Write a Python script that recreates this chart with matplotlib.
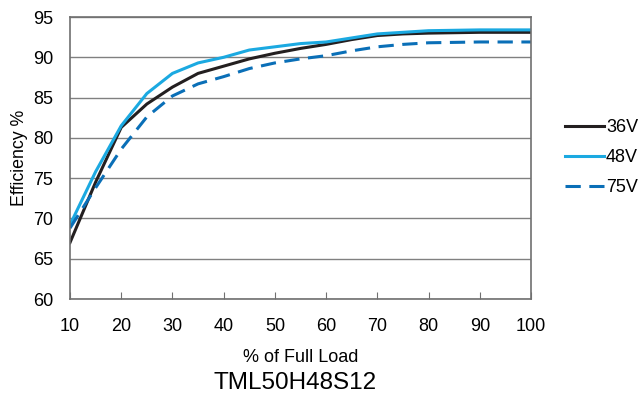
import matplotlib.pyplot as plt

plt.rcParams['font.family'] = ['Liberation Sans', 'DejaVu Sans']

# % of full load
load = [10, 15, 20, 25, 30, 35, 40, 45, 50, 55, 60, 65, 70, 75, 80, 90, 100]
eff_36v = [67.0, 74.5, 81.3, 84.2, 86.3, 88.0, 88.9, 89.8, 90.5, 91.1, 91.6, 92.2, 92.7, 92.9, 93.0, 93.1, 93.1]
eff_48v = [69.2, 75.8, 81.5, 85.5, 88.0, 89.3, 90.0, 90.9, 91.3, 91.7, 91.9, 92.4, 92.9, 93.1, 93.3, 93.4, 93.4]
eff_75v = [68.8, 73.8, 78.6, 82.6, 85.2, 86.7, 87.6, 88.6, 89.3, 89.8, 90.2, 90.8, 91.3, 91.6, 91.8, 91.9, 91.9]

fig = plt.figure(figsize=(6.41, 4.0), dpi=100)
ax = fig.add_axes([70 / 641, 1 - 299 / 400, 461 / 641, 282 / 400])

ax.plot(load, eff_36v, color='#231f20', lw=2.2, label='36V')
ax.plot(load, eff_48v, color='#1ba9e1', lw=2.2, label='48V')
ax.plot(load, eff_75v, color='#0a6fb7', lw=2.2, dashes=(5, 2.8), label='75V')

ax.set_xlim(10, 100)
ax.set_ylim(60, 95)
ax.set_xticks(range(10, 101, 10))
ax.set_yticks(range(60, 96, 5))
ax.yaxis.grid(True, color='#808080', lw=1)
ax.set_axisbelow(True)
for s in ax.spines.values():
    s.set_color('#707070')
    s.set_linewidth(1.2)
ax.tick_params(axis='x', direction='in', length=5, color='#707070', labelsize=13, pad=14)
ax.tick_params(axis='y', length=0, labelsize=13, pad=12)

ax.set_xlabel('% of Full Load', fontsize=13, labelpad=10)
ax.set_ylabel('Efficiency %', fontsize=12.8, labelpad=4)
fig.text(295 / 641, 1 - 383 / 400, 'TML50H48S12', fontsize=17.5, ha='center', va='center')

ax.legend(loc='center left', bbox_to_anchor=(1.074, 0.5), frameon=False, fontsize=13,
          handlelength=2.17, labelspacing=0.72, handletextpad=0.1,
          borderaxespad=0, borderpad=0)

fig.savefig('out.png', dpi=100)
